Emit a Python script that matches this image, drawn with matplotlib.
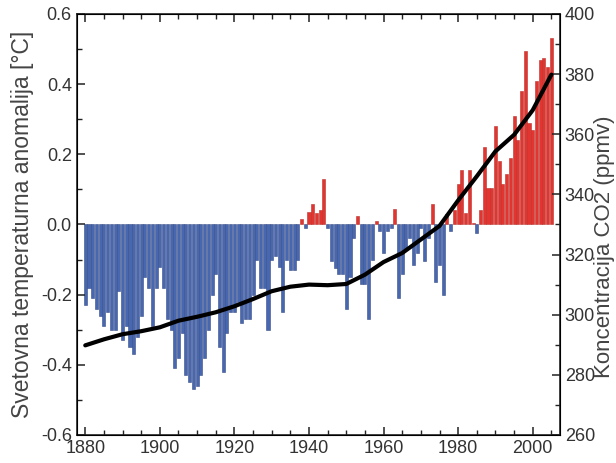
import numpy as np
import matplotlib
matplotlib.use("Agg")
import matplotlib.pyplot as plt
from matplotlib.ticker import MultipleLocator

# annual temperature anomaly, 1880-2005
years = np.arange(1880, 2006)
anomaly = [
    -0.23, -0.18, -0.21, -0.24, -0.26, -0.29, -0.25, -0.30, -0.30, -0.19,   # 1880s
    -0.33, -0.29, -0.35, -0.37, -0.32, -0.26, -0.15, -0.18, -0.29, -0.18,   # 1890s
    -0.12, -0.18, -0.27, -0.30, -0.41, -0.38, -0.31, -0.43, -0.45, -0.47,   # 1900s
    -0.46, -0.43, -0.38, -0.30, -0.20, -0.14, -0.35, -0.42, -0.31, -0.25,   # 1910s
    -0.25, -0.22, -0.28, -0.27, -0.27, -0.20, -0.10, -0.18, -0.18, -0.30,   # 1920s
    -0.10, -0.09, -0.12, -0.25, -0.10, -0.13, -0.13, -0.10, 0.015, -0.01,   # 1930s
    0.035, 0.058, 0.034, 0.04, 0.13, -0.01, -0.105, -0.125, -0.14, -0.14,   # 1940s
    -0.24, -0.15, -0.04, 0.024, -0.17, -0.17, -0.27, -0.10, 0.01, -0.02,    # 1950s
    -0.08, -0.02, -0.01, 0.043, -0.21, -0.14, -0.07, -0.04, -0.115, -0.08,  # 1960s
    -0.01, -0.105, -0.04, 0.058, -0.163, -0.115, -0.20, 0.03, -0.02, 0.04,  # 1970s
    0.115, 0.154, 0.034, 0.154, 0.005, -0.024, 0.04, 0.22, 0.105, 0.105,    # 1980s
    0.28, 0.18, 0.115, 0.144, 0.19, 0.31, 0.24, 0.38, 0.495, 0.29,          # 1990s
    0.27, 0.41, 0.47, 0.475, 0.45, 0.53,                                    # 2000s
]

# CO2 concentration (ppmv), smoothed curve
co2_years = [1880, 1885, 1890, 1895, 1900, 1905, 1910, 1915, 1920, 1925,
             1930, 1935, 1940, 1945, 1950, 1955, 1960, 1965, 1970, 1975,
             1980, 1985, 1990, 1995, 2000, 2005]
co2 = [289.8, 291.8, 293.5, 294.5, 295.8, 298.0, 299.3, 300.8, 302.8, 305.2,
       307.8, 309.3, 310.0, 309.8, 310.2, 313.3, 317.5, 320.5, 325.0, 329.5,
       338.0, 346.0, 354.3, 359.8, 368.0, 379.8]

plt.rcParams['font.family'] = ['Liberation Sans', 'DejaVu Sans']

fig = plt.figure(figsize=(6.16, 4.63), dpi=100)
ax = fig.add_axes([0.1245, 0.0605, 0.7845, 0.9095])

anomaly = np.array(anomaly)
colors = np.where(anomaly >= 0, '#e3342f', '#4767b0')
edges = np.where(anomaly >= 0, '#b8302c', '#384d84')
ax.bar(years, anomaly, width=0.82, color=colors, edgecolor=edges, linewidth=0.4)

ax.set_xlim(1877.7, 2007.3)
ax.set_ylim(-0.6, 0.6)
ax.xaxis.set_major_locator(MultipleLocator(20))
ax.xaxis.set_minor_locator(MultipleLocator(5))
ax.yaxis.set_major_locator(MultipleLocator(0.2))
ax.yaxis.set_minor_locator(MultipleLocator(0.1))
ax.yaxis.set_major_formatter(plt.FormatStrFormatter('%.1f'))
ax.tick_params(which='both', direction='in', top=True, right=False, labelsize=13, colors='#333333')
ax.tick_params(which='major', length=6, width=1.1, color='#222222')
ax.tick_params(which='minor', length=3.5, width=1.0, color='#222222')
ax.set_ylabel('Svetovna temperaturna anomalija [°C]', fontsize=16.5, labelpad=5, color='#444444')
for s in ax.spines.values():
    s.set_linewidth(1.2)
    s.set_color('#222222')

ax2 = ax.twinx()
ax2.plot(co2_years, co2, color='black', linewidth=3, solid_capstyle='round')
ax2.set_ylim(260, 400)
ax2.yaxis.set_major_locator(MultipleLocator(20))
ax2.yaxis.set_minor_locator(MultipleLocator(10))
ax2.tick_params(which='both', direction='in', labelsize=13, colors='#333333')
ax2.tick_params(which='major', length=6, width=1.1, color='#222222')
ax2.tick_params(which='minor', length=3.5, width=1.0, color='#222222')

# right label sits at the very edge of the figure, a little below centre
fig.text(0.999, 0.467, 'Koncentracija CO2 (ppmv)', rotation=90, ha='right', va='center',
         fontsize=16, color='#444444')

fig.savefig('out.png', dpi=100)
